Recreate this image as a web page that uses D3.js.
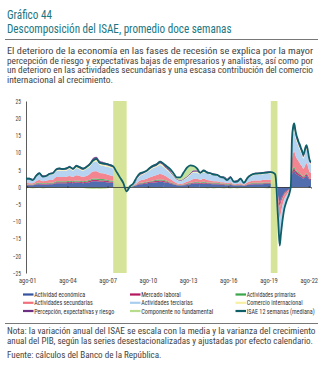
<!DOCTYPE html>
<html>
<head>
<meta charset="utf-8">
<script src="https://cdn.jsdelivr.net/npm/d3@7"></script>
<style>
  body { margin: 0; background: #fff; }
  svg { display: block; }
</style>
</head>
<body>
<svg id="chart" width="326" height="372"></svg>
<script>
// fechas: trimestral hasta 2019, mensual desde 2020
const fechas = [
  "2001-07","2001-10",
  "2002-01","2002-04","2002-07","2002-10","2003-01","2003-04","2003-07","2003-10",
  "2004-01","2004-04","2004-07","2004-10","2005-01","2005-04","2005-07","2005-10",
  "2006-01","2006-04","2006-07","2006-10","2007-01","2007-04","2007-07","2007-10",
  "2008-01","2008-04","2008-07","2008-10","2009-01","2009-04","2009-07","2009-10",
  "2010-01","2010-04","2010-07","2010-10","2011-01","2011-04","2011-07","2011-10",
  "2012-01","2012-04","2012-07","2012-10","2013-01","2013-04","2013-07","2013-10",
  "2014-01","2014-04","2014-07","2014-10","2015-01","2015-04","2015-07","2015-10",
  "2016-01","2016-04","2016-07","2016-10","2017-01","2017-04","2017-07","2017-10",
  "2018-01","2018-04","2018-07","2018-10","2019-01","2019-04","2019-07","2019-10",
  "2020-01","2020-02","2020-03","2020-04","2020-05","2020-06","2020-07","2020-08","2020-09","2020-10","2020-11","2020-12",
  "2021-01","2021-02","2021-03","2021-04","2021-05","2021-06","2021-07","2021-08","2021-09","2021-10","2021-11","2021-12",
  "2022-01","2022-02","2022-03","2022-04","2022-05","2022-06","2022-07","2022-08","2022-09","2022-10"
];

const actividadEconomica = [
  .5,.5,.5,.7,.8,.7,.7,.8,.8,1.1, 1.1,1.1,1.1,1.2,1.1,1.3,1.2,1.1,1.2,1.4,
  1.7,1.7,1.5,1.5,1.4,1.3,1.2,.9,.6,.3, -.4,-.1,.2,.5,.8,.9,1.0,1.2,1.3,1.4,
  1.5,1.4,1.2,1.0,.7,.5,.4,.5,.6,.8, 1.0,1.0,.9,1.0,.9,.9,.8,.8,.6,.6,
  .5,.6,.4,.4,.5,.3,.6,.7,.8,.8, .8,.9,.9,.9,
  .9,.8,.2,-1.6,-3.2,-4.5,-3.7,-2.9,-2.3,-1.8, -1.4,-1.2,-.9,-.7,-.4,.1,3.5,4.3,4.5,4.1,
  3.7,3.5,3.3,3.1,2.9,2.7,2.4,2.6,3.0,3.2, 2.9,2.4,2.0,2.0
];
const mercadoLaboral = [
  .1,.1,.1,.2,.2,.2,.2,.2,.2,.3, .3,.3,.3,.3,.3,.3,.3,.3,.3,.4,
  .4,.4,.4,.4,.4,.3,.3,.2,.2,.1, -.1,0,0,.1,.2,.2,.3,.3,.4,.4,
  .4,.4,.3,.2,.2,.1,.1,.1,.2,.2, .2,.3,.2,.3,.2,.2,.2,.2,.2,.2,
  .1,.2,.1,.1,.1,.1,.1,.2,.2,.2, .2,.2,.2,.2,
  .2,.2,0,-.4,-.7,-1.0,-.8,-.6,-.5,-.4, -.3,-.3,-.2,-.2,-.1,0,.6,.8,.8,.7,
  .7,.6,.6,.5,.5,.5,.4,.4,.5,.5, .5,.4,.3,.3
];
const actividadesPrimarias = [
  .1,.1,.1,.2,.2,.2,.2,.2,.2,.3, .3,.3,.3,.3,.3,.3,.3,.3,.3,.3,
  .4,.4,.4,.4,.3,.3,.3,.2,.2,.1, .1,.1,.1,.1,.2,.2,.2,.2,.2,.3,
  .3,.3,.3,.2,.2,.1,.1,.1,.2,.2, .2,.2,.2,.3,.2,.2,.2,.2,.2,.2,
  .2,.2,.1,.1,.1,.1,.1,.2,.2,.2, .2,.2,.2,.2,
  .2,.2,.1,-.1,-.2,-.3,-.2,-.2,-.1,-.1, -.1,-.1,-.1,0,0,.1,.4,.5,.5,.5,
  .4,.4,.4,.4,.3,.3,.3,.3,.3,.3, .3,.2,.2,.2
];
const actividadesSecundarias = [
  .5,.4,.4,.6,.8,.6,.7,.8,.9,1.2, 1.2,1.2,1.3,1.4,1.2,1.5,1.4,1.3,1.4,1.7,
  2.0,2.1,1.8,1.7,1.6,1.5,1.3,1.0,.6,.3, -.2,.1,.2,.4,.7,.8,.9,1.1,1.3,1.4,
  1.6,1.4,1.2,.9,.6,.4,.3,.4,.5,.7, .9,.9,.8,.9,.7,.6,.5,.5,.4,.4,
  .3,.4,.2,.3,.4,.2,.5,.6,.7,.7, .7,.8,.8,.8,
  .9,.8,.1,-1.3,-2.5,-3.5,-2.9,-2.3,-1.7,-1.3, -1.1,-.8,-.7,-.5,-.3,.1,3.3,4.2,4.5,4.0,
  3.6,3.4,3.1,2.9,2.7,2.5,2.2,2.4,2.7,2.9, 2.6,2.1,1.8,1.7
];
const actividadesTerciarias = [
  1.1,1.2,1.0,1.2,1.6,1.2,1.1,1.5,1.5,1.7, 1.8,1.8,1.7,2.0,1.8,2.1,1.9,1.7,2.1,2.1,
  2.6,2.8,2.3,2.2,2.2,2.3,2.2,1.7,1.0,.4, -.3,.2,.3,1.0,1.3,1.6,1.9,2.1,2.3,2.4,
  2.6,2.3,1.9,1.8,1.2,.9,.8,1.0,1.1,1.6, 1.9,1.7,1.7,1.7,1.9,1.7,1.7,1.5,1.3,1.2,
  1.0,1.3,.7,.8,1.2,.5,1.2,1.3,1.6,1.7, 1.7,1.7,1.8,1.8,
  1.5,1.2,.2,-2.0,-4.4,-6.5,-5.4,-4.2,-3.2,-2.4, -1.9,-1.5,-1.2,-.9,-.6,.2,4.6,5.7,6.0,5.4,
  4.9,4.6,4.2,4.0,3.6,3.3,3.0,3.2,3.7,3.9, 3.5,2.9,2.4,2.4
];
const comercioInternacional = [
  .1,.1,.1,.2,.2,.2,.2,.2,.3,.3, .3,.3,.3,.4,.3,.4,.3,.3,.3,.4,
  .5,.5,.4,.4,.4,.3,.3,.2,.2,.1, .1,.1,0,.1,.2,.2,.2,.3,.3,.3,
  .4,.4,.3,.2,.2,.1,.1,.1,.2,.2, .2,.3,.2,.3,.2,.2,.2,.2,.2,.2,
  .2,.2,.1,.1,.1,.1,.1,.2,.2,.2, .2,.2,.2,.2,
  .2,.2,.1,-.2,-.3,-.4,-.3,-.3,-.2,-.2, -.1,-.1,-.1,-.1,0,0,.6,.8,.8,.7,
  .6,.6,.5,.5,.5,.4,.4,.4,.5,.5, .4,.3,.3,.3
];
const percepcionRiesgo = [
  .3,.3,.2,.4,.4,.3,.4,.4,.4,.5, .6,.5,.6,.6,.5,.6,.6,.6,.6,.7,
  .8,.9,.8,.7,.7,.7,.6,.5,.3,.1, -.4,-.1,0,.3,.4,.4,.5,.6,.7,.7,
  .8,.7,.6,.5,.3,.2,.2,.2,.3,.4, .5,.5,.4,.5,.5,.4,.4,.4,.3,.3,
  .2,.3,.2,.2,.3,.2,.3,.4,.4,.4, .4,.4,.5,.5,
  .4,.4,-.1,-.4,-.7,-.8,-.7,-.5,-.5,-.3, -.3,-.2,-.1,-.1,-.1,0,.8,1.0,1.0,.9,
  .9,.8,.8,.8,.7,.7,.6,.6,.7,.8, .7,.6,.5,.4
];
const componenteNoFundamental = [
  -.3,-.3,-.4,-.3,-.2,-.4,-.3,-.3,-.2,-.3, -.2,-.3,-.2,-.3,-.2,-.3,-.2,-.3,-.4,-.5,
  -.6,-.5,-.6,-.5,-.4,-.3,-.2,-.3,-.3,-.2, -.1,-.1,.2,.3,.2,0,-.2,-.3,-.3,-.2,
  -.3,-.2,.2,.4,.6,.5,.8,1.8,2.5,2.2, 1.2,.4,-.3,-.2,-.4,-.3,-.4,-.3,-.3,-.4,
  -.3,-.4,-.3,-.4,-.3,-.3,-.3,-.2,-.3,-.3, -.2,-.3,-.4,-.3,
  -.3,-.2,-.1,0,0,0,0,0,0,0, 0,0,0,0,0,0,.2,.2,.4,.2,
  .2,.1,.1,.1,.1,.1,.1,.1,.1,.1, .1,.1,.1,.1
];
const isae12Semanas = [
  2.4,2.4,2.0,3.2,4.0,3.0,3.2,3.8,4.0,5.1, 5.4,5.2,5.4,5.8,5.3,6.1,5.8,5.3,5.8,6.6,
  7.7,8.2,7.0,6.8,6.7,6.4,6.0,4.4,2.8,1.2, -1.3,.2,1.0,2.8,4.0,4.3,4.7,5.6,6.2,6.6,
  7.4,6.8,6.0,5.2,4.0,2.8,2.8,4.2,5.6,6.3, 6.1,5.4,4.1,4.8,4.2,4.0,3.6,3.5,2.9,2.7,
  2.0,2.8,1.5,1.6,2.4,1.2,2.6,3.4,3.8,3.9, 4.0,4.1,4.2,4.3,
  4.0,3.6,.5,-6,-12,-17,-14,-11,-8.5,-6.5, -5.2,-4.2,-3.3,-2.5,-1.5,.5,14,17.5,18.5,16.5,
  15,14,13,12.3,11.3,10.5,9.4,10,11.5,12.2, 11,9,7.6,7.4
];

const recesiones = [["2008-01", "2009-01"], ["2019-10", "2020-04"]];
const ejeYTicks = [25, 20, 15, 10, 5, 0, -5, -10, -15, -20, -25];
const ejeXTicks = ["2001-08","2004-08","2007-08","2010-08","2013-08","2016-08","2019-08","2022-08"];

const series = [
  { key: "econ", nombre: "Actividad económica", valores: actividadEconomica, color: "#34539f" },
  { key: "lab", nombre: "Mercado laboral", valores: mercadoLaboral, color: "#b3175c" },
  { key: "prim", nombre: "Actividades primarias", valores: actividadesPrimarias, color: "#3aa64c" },
  { key: "sec", nombre: "Actividades secundarias", valores: actividadesSecundarias, color: "#f0707c" },
  { key: "ter", nombre: "Actividades terciarias", valores: actividadesTerciarias, color: "#a9cdef" },
  { key: "com", nombre: "Comercio internacional", valores: comercioInternacional, color: "#f7f0a4" },
  { key: "per", nombre: "Percepción, expectativas y riesgo", valores: percepcionRiesgo, color: "#6c2f84" },
  { key: "nf", nombre: "Componente no fundamental", valores: componenteNoFundamental, color: "#b6dc8c" }
];

const parse = d3.timeParse("%Y-%m");
const svg = d3.select("#chart");
const FONT = "'Liberation Sans Narrow','Roboto Condensed','DejaVu Sans Condensed','Liberation Sans',Arial,sans-serif";

function texto(g, str, x, y, size, color, width, anchor) {
  let t = g.append("text")
    .attr("x", x).attr("y", y)
    .attr("font-family", FONT)
    .attr("font-size", size)
    .attr("fill", color)
    .attr("text-anchor", anchor || "start")
    .text(str);
  if (width) t.attr("textLength", width).attr("lengthAdjust", "spacingAndGlyphs");
  return t;
}

// titulo y texto
texto(svg, "Gráfico 44", 7, 19, 12.5, "#1b7682", 45);
texto(svg, "Descomposición del ISAE, promedio doce semanas", 7, 33, 12.5, "#1b7682", 224.5);
svg.append("line").attr("x1", 5).attr("x2", 318).attr("y1", 39.5).attr("y2", 39.5)
  .attr("stroke", "#555").attr("stroke-width", 0.8);

const parrafo = [
  ["El deterioro de la economía en las fases de recesión se explica por la mayor", 306],
  ["percepción de riesgo y expectativas bajas de empresarios y analistas, así como por", 306],
  ["un deterioro en las actividades secundarias y una escasa contribución del comercio", 306],
  ["internacional al crecimiento.", 106]
];
parrafo.forEach((p, i) => texto(svg, p[0], 7, 54 + i * 9.6, 9.6, "#444", p[1]));

// escalas
const x = d3.scaleTime()
  .domain([parse("2001-07"), parse("2022-10")])
  .range([26, 311]);
const y = d3.scaleLinear().domain([-25, 25]).range([273, 101]);

const datos = fechas.map((f, i) => {
  let row = { fecha: parse(f), isae: isae12Semanas[i] };
  series.forEach(s => row[s.key] = s.valores[i]);
  return row;
});

const stack = d3.stack()
  .keys(series.map(s => s.key))
  .offset(d3.stackOffsetDiverging);
const capas = stack(datos);

const area = d3.area()
  .x(d => x(d.data.fecha))
  .y0(d => y(d[0]))
  .y1(d => y(d[1]))
  .curve(d3.curveMonotoneX);

const plot = svg.append("g");
plot.selectAll(".capa")
  .data(capas)
  .enter()
  .append("path")
  .attr("class", "capa")
  .attr("d", area)
  .attr("fill", (d, i) => series[i].color)
  .attr("fill-opacity", 0.85);

// bandas de recesion
plot.selectAll(".recesion")
  .data(recesiones)
  .enter()
  .append("rect")
  .attr("class", "recesion")
  .attr("x", d => x(parse(d[0])))
  .attr("width", d => x(parse(d[1])) - x(parse(d[0])))
  .attr("y", y(25))
  .attr("height", y(-25) - y(25))
  .attr("fill", "#d1e290")
  .attr("opacity", 0.92);

// eje y
const ejeY = svg.append("g")
  .attr("transform", "translate(26,0)")
  .call(d3.axisLeft(y).tickValues(ejeYTicks).tickSize(0).tickPadding(5));
ejeY.select(".domain").attr("stroke", "#333").attr("stroke-width", 0.8);
ejeY.selectAll("text")
  .attr("font-family", FONT).attr("font-size", 7).attr("fill", "#444")
  .each(function () {
    let w = this.getComputedTextLength();
    d3.select(this).attr("textLength", w * 0.8).attr("lengthAdjust", "spacingAndGlyphs");
  });

// linea del cero con marcas
const ejeCero = svg.append("g")
  .attr("transform", "translate(0," + y(0) + ")")
  .call(d3.axisBottom(x).tickValues(ejeXTicks.map(parse)).tickSize(1.5).tickFormat(""));
ejeCero.select(".domain").attr("stroke", "#333").attr("stroke-width", 0.8);
ejeCero.selectAll(".tick line").attr("stroke", "#333").attr("transform", "translate(0,-0.75)");

// etiquetas eje x
const mesCorto = d => "ago-" + d3.timeFormat("%y")(d);
const ejeX = svg.append("g")
  .attr("transform", "translate(0," + y(-25) + ")")
  .call(d3.axisBottom(x).tickValues(ejeXTicks.map(parse)).tickSize(0).tickPadding(5).tickFormat(mesCorto));
ejeX.select(".domain").remove();
ejeX.selectAll("text")
  .attr("font-family", FONT).attr("font-size", 7).attr("fill", "#444")
  .attr("textLength", 17.5).attr("lengthAdjust", "spacingAndGlyphs");

// linea ISAE
const linea = d3.line()
  .x(d => x(d.fecha))
  .y(d => y(d.isae))
  .curve(d3.curveMonotoneX);
svg.append("path")
  .datum(datos)
  .attr("d", linea)
  .attr("fill", "none")
  .attr("stroke", "#0f5f69")
  .attr("stroke-width", 1.8)
  .attr("stroke-linejoin", "round");

// leyenda
const leyenda = [
  { nombre: "Actividad económica", color: "#34539f", w: 51 },
  { nombre: "Actividades secundarias", color: "#f0707c", w: 58.5 },
  { nombre: "Percepción, expectativas y riesgo", color: "#6c2f84", w: 80 },
  { nombre: "Mercado laboral", color: "#b3175c", w: 39.5 },
  { nombre: "Actividades terciarias", color: "#a9cdef", w: 51.5 },
  { nombre: "Componente no fundamental", color: "#b6dc8c", w: 72 },
  { nombre: "Actividades primarias", color: "#3aa64c", w: 49 },
  { nombre: "Comercio internacional", color: "#f7f0a4", w: 56 },
  { nombre: "ISAE 12 semanas (mediana)", color: "#0f5f69", w: 68 }
];
const colX = [23, 130, 235.5];
const filaY = [294.5, 302.8, 311];
const gLey = svg.append("g");
leyenda.forEach((l, i) => {
  let cx = colX[Math.floor(i / 3)], cy = filaY[i % 3];
  gLey.append("line")
    .attr("x1", cx).attr("x2", cx + 10.5)
    .attr("y1", cy).attr("y2", cy)
    .attr("stroke", l.color).attr("stroke-width", 2.2);
  texto(gLey, l.nombre, cx + 11.2, cy + 2.5, 7.2, "#333", l.w);
});

// nota y fuente
svg.append("line").attr("x1", 5).attr("x2", 318).attr("y1", 323.5).attr("y2", 323.5)
  .attr("stroke", "#555").attr("stroke-width", 0.8);
texto(svg, "Nota: la variación anual del ISAE se escala con la media y la varianza del crecimiento", 7, 334, 9.4, "#444", 308.5);
texto(svg, "anual del PIB, según las series desestacionalizadas y ajustadas por efecto calendario.", 7, 343.5, 9.4, "#444", 306);
texto(svg, "Fuente: cálculos del Banco de la República.", 7, 358, 9.4, "#444", 154.5);
</script>
</body>
</html>
